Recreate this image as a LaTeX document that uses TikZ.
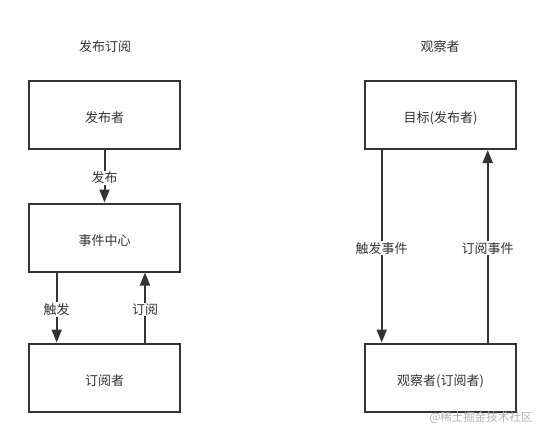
\documentclass[tikz,border=0pt]{standalone}
\usepackage{fontspec}
\newfontfamily\cjk{Noto Sans CJK SC}
\usetikzlibrary{arrows.meta}
\definecolor{ln}{HTML}{333333}
\definecolor{tx}{HTML}{333333}
\begin{document}
\begin{tikzpicture}[x=1pt,y=-1pt,
  box/.style={draw=ln,line width=2pt,minimum width=151pt,minimum height=68pt,inner sep=0pt,text height=15pt,text depth=0pt,font=\cjk\fontsize{13}{15}\selectfont,text=tx},
  lbl/.style={fill=white,inner sep=1pt,yshift=-2pt,font=\cjk\fontsize{13}{15}\selectfont,text=tx},
  ttl/.style={inner sep=0pt,font=\cjk\fontsize{13}{15}\selectfont,text=tx},
  conn/.style={draw=ln,line width=2pt,-{Triangle[length=13pt,width=10pt]}}]
\useasboundingbox (0,0) rectangle (545,437);
\node[ttl] (t1) at (105,47) {发布订阅};
\node[ttl] (t2) at (440,47) {观察者};
\node[box] (pub) at (104.5,114.5) {发布者};
\node[box] (ec) at (104.5,237.5) {事件中心};
\node[box] (sub) at (104.5,377.5) {订阅者};
\node[box] (tg) at (440.5,115) {目标(发布者)};
\node[box] (ob) at (440.5,377.5) {观察者(订阅者)};
\draw[conn] (pub.south) -- node[lbl,pos=0.5]{发布} (ec.north);
\draw[conn] (ec.south -| 56.7,0) -- node[lbl]{触发} (sub.north -| 56.7,0);
\draw[conn] (sub.north -| 145,0) -- node[lbl]{订阅} (ec.south -| 145,0);
\draw[conn] (tg.south -| 381.7,0) -- node[lbl,pos=0.5]{触发事件} (ob.north -| 381.7,0);
\draw[conn] (ob.north -| 487.7,0) -- node[lbl,pos=0.5]{订阅事件} (tg.south -| 487.7,0);
\node[inner sep=0pt,font=\cjk\fontsize{11.5}{13}\selectfont,text=black!30] (wm) at (481,418) {@稀土掘金技术社区};
\end{tikzpicture}
\end{document}
